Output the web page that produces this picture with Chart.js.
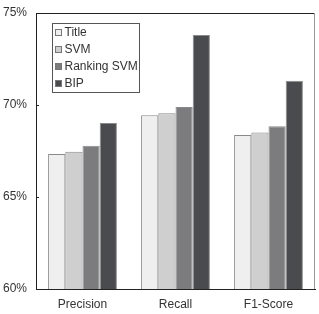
<!DOCTYPE html>
<html><head><meta charset="utf-8">
<script src="https://cdn.jsdelivr.net/npm/chart.js@4/dist/chart.umd.min.js"></script>
<style>html,body{margin:0;padding:0;background:#fff}#wrap{width:319px;height:314px}</style>
</head><body><div id="wrap"><canvas id="c"></canvas></div>
<script>
const categories = ["Precision", "Recall", "F1-Score"];
const seriesNames = ["Title", "SVM", "Ranking SVM", "BIP"];
const titleVals = [67.34, 69.44, 68.37];
const svmVals = [67.46, 69.55, 68.50];
const rankingVals = [67.79, 69.89, 68.84];
const bipVals = [69.02, 73.80, 71.32];
const yTicks = [60, 65, 70, 75];
const colors = ["#efefef", "#cfcfcf", "#7c7c7e", "#4a4b4e"];
const values = [titleVals, svmVals, rankingVals, bipVals];

const FONT = "Liberation Sans, Arial, sans-serif";

const legendPlugin = {
  id: 'innerLegend',
  afterDraw(chart) {
    const ctx = chart.ctx;
    const x0 = 52, y0 = 23, w = 87, h = 69;
    ctx.save();
    ctx.fillStyle = '#fff';
    ctx.fillRect(x0, y0, w, h);
    ctx.strokeStyle = '#555';
    ctx.lineWidth = 1;
    ctx.strokeRect(x0 + 0.5, y0 + 0.5, w, h);
    ctx.font = '12px ' + FONT;
    ctx.textBaseline = 'middle';
    chart.data.datasets.forEach((ds, i) => {
      const cy = y0 + 9.5 + i * 17;
      ctx.fillStyle = ds.backgroundColor;
      ctx.fillRect(x0 + 3, cy - 3.5, 7, 7);
      ctx.strokeStyle = '#777';
      ctx.strokeRect(x0 + 3.5, cy - 3, 6, 6);
      ctx.fillStyle = '#333';
      ctx.fillText(ds.label, x0 + 12.5, cy + 0.5);
    });
    ctx.restore();
  }
};

const framePlugin = {
  id: 'frame',
  afterDatasetsDraw(chart) {
    const a = chart.chartArea, ctx = chart.ctx;
    ctx.save();
    ctx.lineWidth = 1;
    ctx.strokeStyle = '#222';
    ctx.beginPath();
    ctx.moveTo(a.left, a.top + 0.5); ctx.lineTo(a.right, a.top + 0.5);
    ctx.stroke();
    ctx.strokeStyle = '#999';
    ctx.beginPath();
    ctx.moveTo(a.right - 0.5, a.top); ctx.lineTo(a.right - 0.5, a.bottom);
    ctx.stroke();
    ctx.strokeStyle = '#222';
    const ys = chart.scales.y;
    yTicks.forEach(v => {
      const py = Math.round(ys.getPixelForValue(v)) + 0.5;
      ctx.beginPath(); ctx.moveTo(a.left, py); ctx.lineTo(a.left + 3, py); ctx.stroke();
    });
    ctx.restore();
  }
};

new Chart(document.getElementById('c'), {
  type: 'bar',
  data: {
    labels: categories,
    datasets: seriesNames.map((n, i) => ({
      label: n,
      data: values[i],
      backgroundColor: colors[i],
      borderColor: '#8a8a8a',
      borderWidth: 1,
      categoryPercentage: 0.74,
      barPercentage: 1.0
    }))
  },
  options: {
    responsive: true,
    maintainAspectRatio: false,
    animation: false,
    devicePixelRatio: 1,
    layout: { padding: { top: 0, right: 4, left: 0, bottom: 0 } },
    plugins: { legend: { display: false }, tooltip: { enabled: false } },
    scales: {
      x: {
        grid: { display: false, drawTicks: false },
        border: { display: true, color: '#222', width: 1 },
        ticks: { color: '#333', font: { family: FONT, size: 12 }, padding: 8 },
        afterFit(s) { s.height = 25; }
      },
      y: {
        min: 60, max: 75,
        afterBuildTicks(s) { s.ticks = yTicks.map(v => ({ value: v })); },
        grid: { display: false, drawTicks: false },
        border: { display: true, color: '#222', width: 1 },
        ticks: { color: '#333', font: { family: FONT, size: 12 }, padding: 9, callback: v => v + '%' },
        afterFit(s) { s.width = 36; s.paddingTop = 13; s.paddingBottom = 0; }
      }
    }
  },
  plugins: [legendPlugin, framePlugin]
});
</script></body></html>
